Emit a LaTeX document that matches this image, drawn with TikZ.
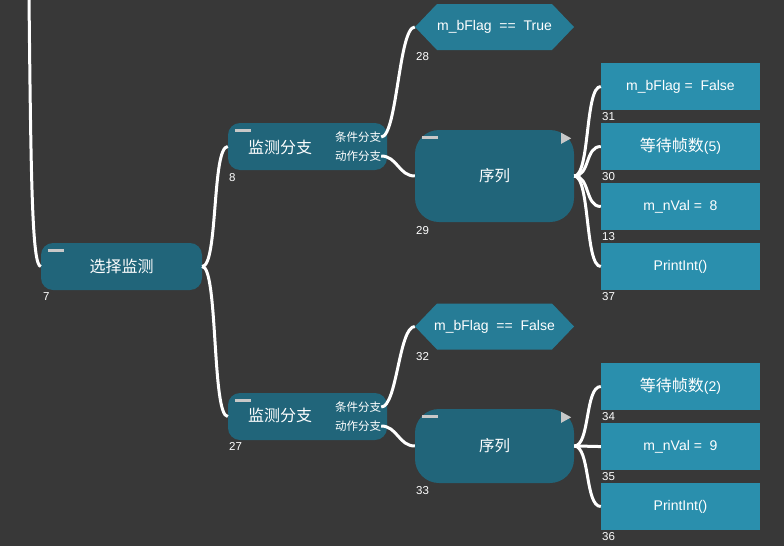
\documentclass[tikz,border=0pt]{standalone}
\usepackage{fontspec}
\setmainfont{Liberation Sans}
\newfontfamily\cjk{Noto Sans CJK SC}
\definecolor{bgc}{RGB}{56,56,56}
\definecolor{boxc}{RGB}{33,101,122}
\definecolor{hexc}{RGB}{38,124,150}
\definecolor{rectc}{RGB}{42,143,173}
\definecolor{barc}{RGB}{200,200,200}
\tikzset{
  rbox/.style={fill=boxc, rounded corners=12pt, minimum width=161pt, minimum height=47pt, inner sep=0pt, text=white},
  seqbox/.style={fill=boxc, rounded corners=24pt, minimum width=159pt, inner sep=0pt, text=white, font=\cjk\fontsize{15.5}{16}\selectfont},
  hexbox/.style={minimum width=159pt, minimum height=46pt, inner sep=0pt, text=white, font=\fontsize{14}{14}\selectfont,
    path picture={\fill[hexc] (path picture bounding box.west) -- ([xshift=22pt]path picture bounding box.north west) -- ([xshift=-22pt]path picture bounding box.north east) -- (path picture bounding box.east) -- ([xshift=-22pt]path picture bounding box.south east) -- ([xshift=22pt]path picture bounding box.south west) -- cycle;}},
  actbox/.style={fill=rectc, minimum width=159pt, minimum height=47pt, inner sep=0pt, text=white, font=\fontsize{14}{14}\selectfont},
  numlab/.style={anchor=north west, inner sep=0pt, text=white, font=\fontsize{11.5}{12}\selectfont},
  conn/.style={draw=white, line width=3pt},
  minusbar/.style={draw=barc, line width=2.8pt},
  mainlab/.style={inner sep=0pt, text=white, font=\cjk\fontsize{16}{16}\selectfont},
  sublab/.style={inner sep=0pt, text=white, font=\cjk\fontsize{11.5}{12}\selectfont},
}
\begin{document}
\begin{tikzpicture}[x=1pt,y=-1pt]
\fill[bgc] (0,0) rectangle (784,546);
\useasboundingbox (0,0) rectangle (784,546);

% nodes
\node[rbox] (sel) at (121.5,266.5) {};
\node[mainlab] (selt) at (121.5,266.5) {选择监测};
\node[numlab] (n7) at (43,292) {7};

\node[rbox, minimum width=159pt] (b8) at (307.5,146.5) {};
\node[mainlab] (b8t) at (280,147) {监测分支};
\node[sublab] (b8c) at (358,137) {条件分支};
\node[sublab] (b8a) at (358,156) {动作分支};
\node[numlab] (n8) at (229,173) {8};

\node[rbox, minimum width=159pt] (b27) at (307.5,416.5) {};
\node[mainlab] (b27t) at (280,415) {监测分支};
\node[sublab] (b27c) at (358,407) {条件分支};
\node[sublab] (b27a) at (358,426) {动作分支};
\node[numlab] (n27) at (229,442) {27};

\node[hexbox] (h28) at (494.5,27) {m\_bFlag \ == \ True};
\node[numlab] (n28) at (416,52) {28};
\node[hexbox] (h32) at (494.5,326.5) {m\_bFlag \ == \ False};
\node[numlab] (n32) at (416,352) {32};

\node[seqbox, minimum height=92pt] (s29) at (494.5,176) {序列};
\node[numlab] (n29) at (416,226) {29};
\node[seqbox, minimum height=74pt] (s33) at (494.5,446) {序列};
\node[numlab] (n33) at (416,486) {33};

\node[actbox] (a31) at (680.5,86.5) {m\_bFlag = \ False};
\node[numlab] (n31) at (602,112) {31};
\node[actbox, font=\cjk\fontsize{16}{16}\selectfont] (a30) at (680.5,146.5) {等待帧数{\fontsize{14}{14}\selectfont\rmfamily(5)}};
\node[numlab] (n30) at (602,172) {30};
\node[actbox] (a13) at (680.5,206.5) {m\_nVal = \ 8};
\node[numlab] (n13) at (602,232) {13};
\node[actbox] (a37) at (680.5,266.5) {PrintInt()};
\node[numlab] (n37) at (602,292) {37};

\node[actbox, font=\cjk\fontsize{16}{16}\selectfont] (a34) at (680.5,386.5) {等待帧数{\fontsize{14}{14}\selectfont\rmfamily(2)}};
\node[numlab] (n34) at (602,412) {34};
\node[actbox] (a35) at (680.5,446.5) {m\_nVal = \ 9};
\node[numlab] (n35) at (602,472) {35};
\node[actbox] (a36) at (680.5,506.5) {PrintInt()};
\node[numlab] (n36) at (602,532) {36};

% minus bars and triangles
\draw[minusbar] ([xshift=7pt,yshift=-8pt]sel.north west) -- ++(16,0);
\draw[minusbar] ([xshift=7pt,yshift=-8pt]b8.north west) -- ++(16,0);
\draw[minusbar] ([xshift=7pt,yshift=-8pt]b27.north west) -- ++(16,0);
\draw[minusbar] ([xshift=7pt,yshift=-8pt]s29.north west) -- ++(16,0);
\draw[minusbar] ([xshift=7pt,yshift=-8pt]s33.north west) -- ++(16,0);
\fill[barc] ([xshift=-13pt,yshift=-3pt]s29.north east) -- ++(10,5.5) -- ++(-10,5.5) -- cycle;
\fill[barc] ([xshift=-13pt,yshift=-3pt]s33.north east) -- ++(10,5.5) -- ++(-10,5.5) -- cycle;

% connectors
\coordinate (top) at (29,-2);
\draw[conn] (top) .. controls (31,180) and (32,266) .. (sel.west);
\draw[conn] (sel.east) .. controls +(16,0) and +(-16,0) .. (b8.west);
\draw[conn] (sel.east) .. controls +(16,0) and +(-16,0) .. (b27.west);
\draw[conn] (b8c.east) .. controls +(16,0) and +(-16,0) .. (h28.west);
\draw[conn] (b8a.east) .. controls +(16,0) and +(-16,0) .. (s29.west);
\draw[conn] (b27c.east) .. controls +(16,0) and +(-16,0) .. (h32.west);
\draw[conn] (b27a.east) .. controls +(16,0) and +(-16,0) .. (s33.west);
\foreach \t in {a31,a30,a13,a37}
  \draw[conn] (s29.east) .. controls +(16,0) and +(-16,0) .. (\t.west);
\foreach \t in {a34,a35,a36}
  \draw[conn] (s33.east) .. controls +(16,0) and +(-16,0) .. (\t.west);
\end{tikzpicture}
\end{document}
